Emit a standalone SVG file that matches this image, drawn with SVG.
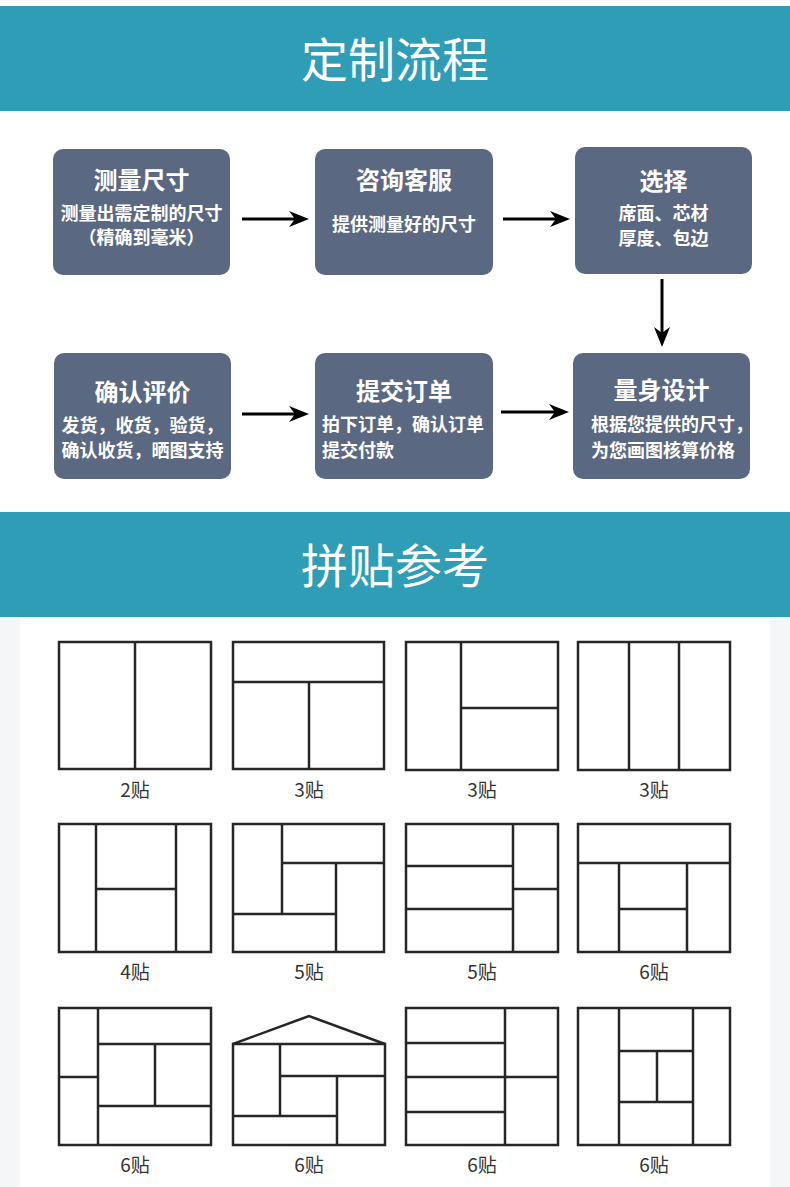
<svg xmlns="http://www.w3.org/2000/svg" width="790" height="1187" viewBox="0 0 790 1187">
<style>
.band{fill:#2f9db6}
.htitle{font-family:"Noto Sans CJK SC","Noto Sans",sans-serif;font-size:47px;fill:#ffffff;text-anchor:middle}
.box{fill:#5b6882}
.bt{font-family:"Noto Sans CJK SC","Noto Sans",sans-serif;font-size:24px;font-weight:700;fill:#ffffff;text-anchor:middle}
.bs{font-family:"Noto Sans CJK SC","Noto Sans",sans-serif;font-size:18px;font-weight:700;fill:#ffffff;text-anchor:middle}
.bl{font-family:"Noto Sans CJK SC","Noto Sans",sans-serif;font-size:18px;font-weight:700;fill:#ffffff;text-anchor:start}
.arr{stroke:#000000;stroke-width:3;fill:none}
.pf{fill:#ffffff;stroke:#262626;stroke-width:2.5}
.pl{stroke:#262626;stroke-width:2.5;fill:none}
.lab{font-family:"Noto Sans CJK SC","Noto Sans",sans-serif;font-size:19px;fill:#333333;text-anchor:middle}
</style>
<defs>
<marker id="ah" viewBox="0 0 20 16" refX="10" refY="8" markerWidth="20" markerHeight="16" markerUnits="userSpaceOnUse" orient="auto">
<path d="M0,0 L20,8 L0,16 L6,8 z" fill="#000000"/>
</marker>
</defs>
<rect x="0" y="0" width="790" height="1187" fill="#ffffff"/>
<rect x="0" y="617" width="790" height="570" fill="#f5f6f8"/>
<rect x="20" y="617" width="750" height="570" fill="#ffffff"/>

<g id="header1">
<rect class="band" x="0" y="6" width="790" height="105"/>
<text class="htitle" x="395" y="77">定制流程</text>
</g>

<g id="node-measure">
<rect class="box" x="53" y="149" width="177" height="126" rx="10"/>
<text class="bt" x="141.5" y="189">测量尺寸</text>
<text class="bs" x="141.5" y="220">测量出需定制的尺寸</text>
<text class="bs" x="141.5" y="244">（精确到毫米）</text>
</g>
<g id="node-consult">
<rect class="box" x="315" y="149" width="178" height="126" rx="10"/>
<text class="bt" x="404" y="189">咨询客服</text>
<text class="bs" x="404" y="231">提供测量好的尺寸</text>
</g>
<g id="node-select">
<rect class="box" x="575" y="147" width="177" height="127" rx="10"/>
<text class="bt" x="663.5" y="190">选择</text>
<text class="bs" x="663.5" y="220">席面、芯材</text>
<text class="bs" x="663.5" y="245">厚度、包边</text>
</g>
<g id="node-confirm">
<rect class="box" x="54" y="353" width="177" height="126" rx="10"/>
<text class="bt" x="142.5" y="401">确认评价</text>
<text class="bs" x="142.5" y="432">发货，收货，验货，</text>
<text class="bs" x="142.5" y="457">确认收货，晒图支持</text>
</g>
<g id="node-order">
<rect class="box" x="315" y="353" width="178" height="126" rx="10"/>
<text class="bt" x="404" y="400">提交订单</text>
<text class="bl" x="322" y="431">拍下订单，确认订单</text>
<text class="bl" x="322" y="457">提交付款</text>
</g>
<g id="node-design">
<rect class="box" x="573" y="353" width="177" height="126" rx="10"/>
<text class="bt" x="661.5" y="399">量身设计</text>
<text class="bl" x="591" y="431">根据您提供的尺寸，</text>
<text class="bl" x="591" y="457">为您画图核算价格</text>
</g>

<g id="connectors">
<line class="arr" x1="242" y1="219" x2="299" y2="219" marker-end="url(#ah)"/>
<line class="arr" x1="503" y1="219" x2="560" y2="219" marker-end="url(#ah)"/>
<line class="arr" x1="662" y1="279" x2="662" y2="337" marker-end="url(#ah)"/>
<line class="arr" x1="242" y1="414" x2="299" y2="414" marker-end="url(#ah)"/>
<line class="arr" x1="501" y1="412" x2="559" y2="412" marker-end="url(#ah)"/>
</g>

<g id="header2">
<rect class="band" x="0" y="512" width="790" height="105"/>
<text class="htitle" x="395" y="583">拼贴参考</text>
</g>

<g id="panel-2a">
<rect class="pf" x="59" y="642" width="152" height="127"/>
<line class="pl" x1="135" y1="642" x2="135" y2="769"/>
<text class="lab" x="135" y="797">2贴</text>
</g>
<g id="panel-3a">
<rect class="pf" x="233" y="642" width="151" height="127"/>
<line class="pl" x1="233" y1="682" x2="384" y2="682"/>
<line class="pl" x1="309" y1="682" x2="309" y2="769"/>
<text class="lab" x="309" y="797">3贴</text>
</g>
<g id="panel-3b">
<rect class="pf" x="406" y="642" width="152" height="128"/>
<line class="pl" x1="461" y1="642" x2="461" y2="770"/>
<line class="pl" x1="461" y1="708" x2="558" y2="708"/>
<text class="lab" x="482" y="797">3贴</text>
</g>
<g id="panel-3c">
<rect class="pf" x="578" y="642" width="152" height="128"/>
<line class="pl" x1="629" y1="642" x2="629" y2="770"/>
<line class="pl" x1="679" y1="642" x2="679" y2="770"/>
<text class="lab" x="654" y="797">3贴</text>
</g>

<g id="panel-4a">
<rect class="pf" x="59" y="824" width="152" height="128"/>
<line class="pl" x1="96" y1="824" x2="96" y2="952"/>
<line class="pl" x1="176" y1="824" x2="176" y2="952"/>
<line class="pl" x1="96" y1="889" x2="176" y2="889"/>
<text class="lab" x="135" y="979">4贴</text>
</g>
<g id="panel-5a">
<rect class="pf" x="233" y="824" width="151" height="128"/>
<line class="pl" x1="282" y1="824" x2="282" y2="914"/>
<line class="pl" x1="282" y1="863" x2="384" y2="863"/>
<line class="pl" x1="336" y1="863" x2="336" y2="952"/>
<line class="pl" x1="233" y1="914" x2="336" y2="914"/>
<text class="lab" x="309" y="979">5贴</text>
</g>
<g id="panel-5b">
<rect class="pf" x="406" y="824" width="152" height="128"/>
<line class="pl" x1="513" y1="824" x2="513" y2="952"/>
<line class="pl" x1="406" y1="866" x2="513" y2="866"/>
<line class="pl" x1="406" y1="909" x2="513" y2="909"/>
<line class="pl" x1="513" y1="889" x2="558" y2="889"/>
<text class="lab" x="482" y="979">5贴</text>
</g>
<g id="panel-6a">
<rect class="pf" x="578" y="824" width="152" height="128"/>
<line class="pl" x1="578" y1="863" x2="730" y2="863"/>
<line class="pl" x1="619" y1="863" x2="619" y2="952"/>
<line class="pl" x1="687" y1="863" x2="687" y2="952"/>
<line class="pl" x1="619" y1="909" x2="687" y2="909"/>
<text class="lab" x="654" y="979">6贴</text>
</g>

<g id="panel-6b">
<rect class="pf" x="59" y="1008" width="152" height="137"/>
<line class="pl" x1="98" y1="1008" x2="98" y2="1145"/>
<line class="pl" x1="59" y1="1077" x2="98" y2="1077"/>
<line class="pl" x1="98" y1="1044" x2="211" y2="1044"/>
<line class="pl" x1="155" y1="1044" x2="155" y2="1106"/>
<line class="pl" x1="98" y1="1106" x2="211" y2="1106"/>
<text class="lab" x="135" y="1172">6贴</text>
</g>
<g id="panel-6c">
<polyline class="pl" points="233,1044 309,1016 385,1044"/>
<rect class="pf" x="233" y="1044" width="152" height="101"/>
<line class="pl" x1="280" y1="1044" x2="280" y2="1116"/>
<line class="pl" x1="280" y1="1076" x2="385" y2="1076"/>
<line class="pl" x1="337" y1="1076" x2="337" y2="1145"/>
<line class="pl" x1="233" y1="1116" x2="337" y2="1116"/>
<text class="lab" x="309" y="1172">6贴</text>
</g>
<g id="panel-6d">
<rect class="pf" x="406" y="1008" width="152" height="137"/>
<line class="pl" x1="505" y1="1008" x2="505" y2="1145"/>
<line class="pl" x1="406" y1="1043" x2="505" y2="1043"/>
<line class="pl" x1="406" y1="1077" x2="558" y2="1077"/>
<line class="pl" x1="406" y1="1112" x2="505" y2="1112"/>
<text class="lab" x="482" y="1172">6贴</text>
</g>
<g id="panel-6e">
<rect class="pf" x="578" y="1008" width="152" height="137"/>
<line class="pl" x1="619" y1="1008" x2="619" y2="1145"/>
<line class="pl" x1="693" y1="1008" x2="693" y2="1145"/>
<line class="pl" x1="619" y1="1051" x2="693" y2="1051"/>
<line class="pl" x1="619" y1="1102" x2="693" y2="1102"/>
<line class="pl" x1="657" y1="1051" x2="657" y2="1102"/>
<text class="lab" x="654" y="1172">6贴</text>
</g>
</svg>
